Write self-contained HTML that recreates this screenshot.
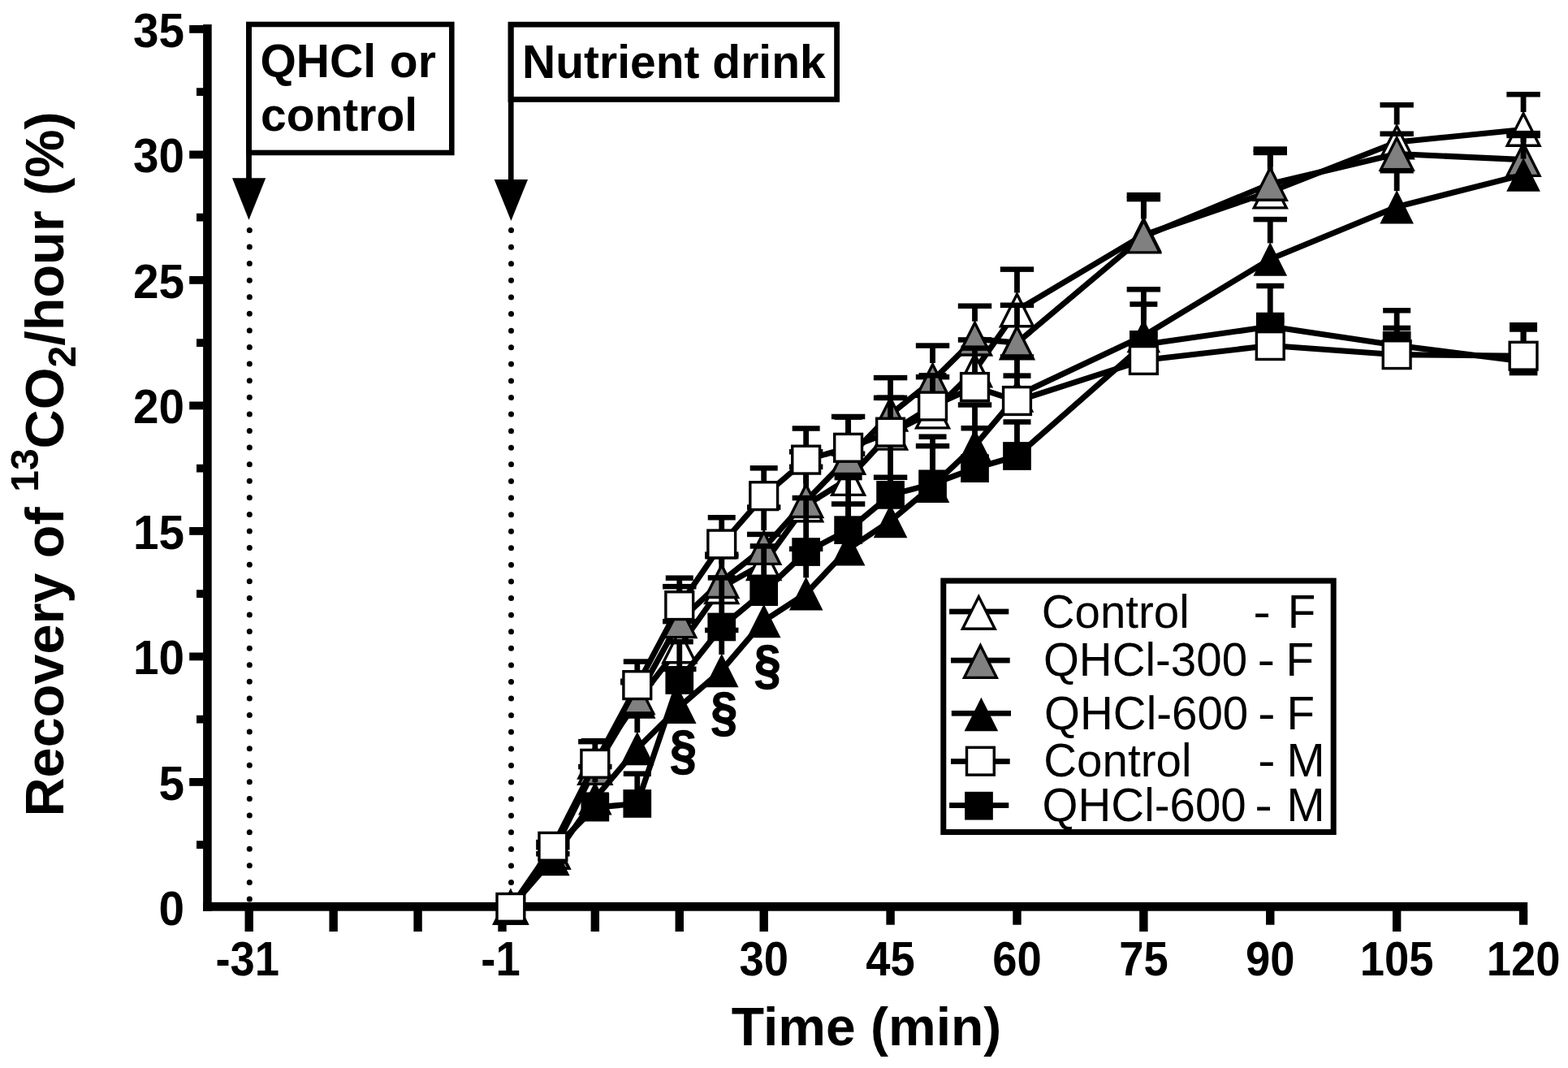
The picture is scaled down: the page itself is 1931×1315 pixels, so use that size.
<!DOCTYPE html>
<html><head><meta charset="utf-8"><title>Recovery of 13CO2/hour</title>
<style>
html,body{margin:0;padding:0;background:#fff;}
svg{display:block;}
text{font-family:"Liberation Sans",Arial,Helvetica,sans-serif;fill:#000;}
.b{font-weight:bold;}
.r{font-weight:normal;}
.tk{font-size:58.5px;}
.ax{font-size:66.6px;}
.bx{font-size:57px;}
.lg{font-size:56.5px;}
.ss{font-size:57.5px;}
</style></head><body>
<svg width="1931" height="1315" viewBox="0 0 1931 1315">
<rect width="1931" height="1315" fill="#fff"/>
<g fill="#000">
<rect x="250.1" y="30.1" width="10.6" height="1091.6"/>
<rect x="250.1" y="1110.9" width="1631.1" height="10.8"/>
<rect x="233.2" y="958" width="17.5" height="9.8"/>
<rect x="233.2" y="803.5" width="17.5" height="9.8"/>
<rect x="233.2" y="649" width="17.5" height="9.8"/>
<rect x="233.2" y="494.5" width="17.5" height="9.8"/>
<rect x="233.2" y="340" width="17.5" height="9.8"/>
<rect x="233.2" y="185.5" width="17.5" height="9.8"/>
<rect x="233.2" y="31" width="17.5" height="9.8"/>
<rect x="242" y="1035.25" width="8.6" height="9.8"/>
<rect x="242" y="880.75" width="8.6" height="9.8"/>
<rect x="242" y="726.25" width="8.6" height="9.8"/>
<rect x="242" y="571.75" width="8.6" height="9.8"/>
<rect x="242" y="417.25" width="8.6" height="9.8"/>
<rect x="242" y="262.75" width="8.6" height="9.8"/>
<rect x="242" y="108.25" width="8.6" height="9.8"/>
<rect x="301.52" y="1121" width="10.4" height="26"/>
<rect x="405.45" y="1121" width="10.4" height="26"/>
<rect x="509.38" y="1121" width="10.4" height="26"/>
<rect x="613.31" y="1121" width="10.4" height="26"/>
<rect x="727.63" y="1121" width="10.4" height="26"/>
<rect x="831.56" y="1121" width="10.4" height="26"/>
<rect x="935.49" y="1121" width="10.4" height="26"/>
<rect x="1403.17" y="1121" width="10.4" height="26"/>
<rect x="1714.96" y="1121" width="10.4" height="26"/>
<rect x="1091.38" y="1121" width="10.4" height="17.7"/>
<rect x="1247.28" y="1121" width="10.4" height="17.7"/>
<rect x="1559.07" y="1121" width="10.4" height="17.7"/>
<rect x="1870.86" y="1121" width="10.4" height="17.7"/>
<rect x="306.5" y="30" width="249.8" height="158" fill="none" stroke="#000" stroke-width="6.6"/>
<rect x="303.1" y="27" width="6.8" height="194"/>
<path d="M286 219.2L327.2 219.2L306.5 270.8Z"/>
<rect x="629" y="30.2" width="401.6" height="92.2" fill="none" stroke="#000" stroke-width="6.8"/>
<rect x="625.9" y="27" width="6.7" height="195"/>
<path d="M608.7 220.9L650 220.9L629.4 272Z"/>
<circle cx="307.3" cy="283.4" r="3.5"/>
<circle cx="629.5" cy="283.6" r="3.5"/>
<circle cx="307.3" cy="303.99" r="3.5"/>
<circle cx="629.5" cy="304.19" r="3.5"/>
<circle cx="307.3" cy="324.58" r="3.5"/>
<circle cx="629.5" cy="324.78" r="3.5"/>
<circle cx="307.3" cy="345.17" r="3.5"/>
<circle cx="629.5" cy="345.37" r="3.5"/>
<circle cx="307.3" cy="365.76" r="3.5"/>
<circle cx="629.5" cy="365.96" r="3.5"/>
<circle cx="307.3" cy="386.35" r="3.5"/>
<circle cx="629.5" cy="386.55" r="3.5"/>
<circle cx="307.3" cy="406.94" r="3.5"/>
<circle cx="629.5" cy="407.14" r="3.5"/>
<circle cx="307.3" cy="427.53" r="3.5"/>
<circle cx="629.5" cy="427.73" r="3.5"/>
<circle cx="307.3" cy="448.12" r="3.5"/>
<circle cx="629.5" cy="448.32" r="3.5"/>
<circle cx="307.3" cy="468.71" r="3.5"/>
<circle cx="629.5" cy="468.91" r="3.5"/>
<circle cx="307.3" cy="489.3" r="3.5"/>
<circle cx="629.5" cy="489.5" r="3.5"/>
<circle cx="307.3" cy="509.89" r="3.5"/>
<circle cx="629.5" cy="510.09" r="3.5"/>
<circle cx="307.3" cy="530.48" r="3.5"/>
<circle cx="629.5" cy="530.68" r="3.5"/>
<circle cx="307.3" cy="551.07" r="3.5"/>
<circle cx="629.5" cy="551.27" r="3.5"/>
<circle cx="307.3" cy="571.66" r="3.5"/>
<circle cx="629.5" cy="571.86" r="3.5"/>
<circle cx="307.3" cy="592.25" r="3.5"/>
<circle cx="629.5" cy="592.45" r="3.5"/>
<circle cx="307.3" cy="612.84" r="3.5"/>
<circle cx="629.5" cy="613.04" r="3.5"/>
<circle cx="307.3" cy="633.43" r="3.5"/>
<circle cx="629.5" cy="633.63" r="3.5"/>
<circle cx="307.3" cy="654.02" r="3.5"/>
<circle cx="629.5" cy="654.22" r="3.5"/>
<circle cx="307.3" cy="674.61" r="3.5"/>
<circle cx="629.5" cy="674.81" r="3.5"/>
<circle cx="307.3" cy="695.2" r="3.5"/>
<circle cx="629.5" cy="695.4" r="3.5"/>
<circle cx="307.3" cy="715.79" r="3.5"/>
<circle cx="629.5" cy="715.99" r="3.5"/>
<circle cx="307.3" cy="736.38" r="3.5"/>
<circle cx="629.5" cy="736.58" r="3.5"/>
<circle cx="307.3" cy="756.97" r="3.5"/>
<circle cx="629.5" cy="757.17" r="3.5"/>
<circle cx="307.3" cy="777.56" r="3.5"/>
<circle cx="629.5" cy="777.76" r="3.5"/>
<circle cx="307.3" cy="798.15" r="3.5"/>
<circle cx="629.5" cy="798.35" r="3.5"/>
<circle cx="307.3" cy="818.74" r="3.5"/>
<circle cx="629.5" cy="818.94" r="3.5"/>
<circle cx="307.3" cy="839.33" r="3.5"/>
<circle cx="629.5" cy="839.53" r="3.5"/>
<circle cx="307.3" cy="859.92" r="3.5"/>
<circle cx="629.5" cy="860.12" r="3.5"/>
<circle cx="307.3" cy="880.51" r="3.5"/>
<circle cx="629.5" cy="880.71" r="3.5"/>
<circle cx="307.3" cy="901.1" r="3.5"/>
<circle cx="629.5" cy="901.3" r="3.5"/>
<circle cx="307.3" cy="921.69" r="3.5"/>
<circle cx="629.5" cy="921.89" r="3.5"/>
<circle cx="307.3" cy="942.28" r="3.5"/>
<circle cx="629.5" cy="942.48" r="3.5"/>
<circle cx="307.3" cy="962.87" r="3.5"/>
<circle cx="629.5" cy="963.07" r="3.5"/>
<circle cx="307.3" cy="983.46" r="3.5"/>
<circle cx="629.5" cy="983.66" r="3.5"/>
<circle cx="307.3" cy="1004.05" r="3.5"/>
<circle cx="629.5" cy="1004.25" r="3.5"/>
<circle cx="307.3" cy="1024.64" r="3.5"/>
<circle cx="629.5" cy="1024.84" r="3.5"/>
<circle cx="307.3" cy="1045.23" r="3.5"/>
<circle cx="629.5" cy="1045.43" r="3.5"/>
<circle cx="307.3" cy="1065.82" r="3.5"/>
<circle cx="629.5" cy="1066.02" r="3.5"/>
<circle cx="307.3" cy="1086.41" r="3.5"/>
<circle cx="629.5" cy="1086.61" r="3.5"/>
<circle cx="307.3" cy="1107" r="3.5"/>
<circle cx="629.5" cy="1107.2" r="3.5"/>
</g>
<g fill="#000">
<rect x="660.16" y="1033.81" width="41.4" height="6.5"/>
<rect x="729.43" y="913.15" width="6.8" height="3.53"/>
<rect x="712.13" y="909.9" width="41.4" height="6.5"/>
<rect x="781.39" y="838.68" width="6.8" height="3.22"/>
<rect x="764.09" y="835.43" width="41.4" height="6.5"/>
<rect x="833.36" y="765.14" width="6.8" height="9.4"/>
<rect x="816.06" y="761.89" width="41.4" height="6.5"/>
<rect x="885.33" y="685.11" width="6.8" height="16.2"/>
<rect x="868.02" y="681.86" width="41.4" height="6.5"/>
<rect x="937.29" y="657.92" width="6.8" height="14.34"/>
<rect x="919.99" y="654.67" width="41.4" height="6.5"/>
<rect x="989.25" y="556.26" width="6.8" height="44.32"/>
<rect x="971.95" y="553.01" width="41.4" height="6.5"/>
<rect x="1041.22" y="558.73" width="6.8" height="9.4"/>
<rect x="1023.92" y="555.48" width="41.4" height="6.5"/>
<rect x="1093.18" y="489.82" width="6.8" height="22.07"/>
<rect x="1075.88" y="486.57" width="41.4" height="6.5"/>
<rect x="1145.15" y="464.17" width="6.8" height="21.45"/>
<rect x="1127.85" y="460.92" width="41.4" height="6.5"/>
<rect x="1197.11" y="418.44" width="6.8" height="16.2"/>
<rect x="1179.81" y="415.19" width="41.4" height="6.5"/>
<rect x="1249.08" y="331.61" width="6.8" height="28.87"/>
<rect x="1231.78" y="328.36" width="41.4" height="6.5"/>
<rect x="1404.97" y="240.15" width="6.8" height="27.63"/>
<rect x="1387.67" y="236.9" width="41.4" height="6.5"/>
<rect x="1560.87" y="183.6" width="6.8" height="31.03"/>
<rect x="1543.57" y="180.35" width="41.4" height="6.5"/>
<rect x="1716.76" y="129.22" width="6.8" height="24.23"/>
<rect x="1699.46" y="125.97" width="41.4" height="6.5"/>
<rect x="1872.66" y="116.24" width="6.8" height="21.76"/>
<rect x="1855.36" y="112.99" width="41.4" height="6.5"/>
<polyline points="628.9,1117.4 680.87,1049.42 732.83,938.18 784.79,863.4 836.76,796.04 888.73,722.81 940.69,693.76 992.65,622.07 1044.62,589.63 1096.59,533.39 1148.55,507.13 1200.51,456.14 1252.48,381.98 1408.38,289.28 1564.27,236.13 1720.16,174.95 1876.06,159.5" fill="none" stroke="#000" stroke-width="7.1" stroke-linejoin="round"/>
<path d="M628.9 1097.65L648.8 1137.15L609 1137.15Z" fill="#fff" stroke="#000" stroke-width="3.4" stroke-linejoin="miter"/>
<path d="M680.87 1029.67L700.76 1069.17L660.97 1069.17Z" fill="#fff" stroke="#000" stroke-width="3.4" stroke-linejoin="miter"/>
<path d="M732.83 918.43L752.73 957.93L712.93 957.93Z" fill="#fff" stroke="#000" stroke-width="3.4" stroke-linejoin="miter"/>
<path d="M784.79 843.65L804.69 883.15L764.89 883.15Z" fill="#fff" stroke="#000" stroke-width="3.4" stroke-linejoin="miter"/>
<path d="M836.76 776.29L856.66 815.79L816.86 815.79Z" fill="#fff" stroke="#000" stroke-width="3.4" stroke-linejoin="miter"/>
<path d="M888.73 703.06L908.62 742.56L868.83 742.56Z" fill="#fff" stroke="#000" stroke-width="3.4" stroke-linejoin="miter"/>
<path d="M940.69 674.01L960.59 713.51L920.79 713.51Z" fill="#fff" stroke="#000" stroke-width="3.4" stroke-linejoin="miter"/>
<path d="M992.65 602.32L1012.55 641.82L972.75 641.82Z" fill="#fff" stroke="#000" stroke-width="3.4" stroke-linejoin="miter"/>
<path d="M1044.62 569.88L1064.52 609.38L1024.72 609.38Z" fill="#fff" stroke="#000" stroke-width="3.4" stroke-linejoin="miter"/>
<path d="M1096.59 513.64L1116.49 553.14L1076.68 553.14Z" fill="#fff" stroke="#000" stroke-width="3.4" stroke-linejoin="miter"/>
<path d="M1148.55 487.38L1168.45 526.88L1128.65 526.88Z" fill="#fff" stroke="#000" stroke-width="3.4" stroke-linejoin="miter"/>
<path d="M1200.51 436.39L1220.41 475.89L1180.61 475.89Z" fill="#fff" stroke="#000" stroke-width="3.4" stroke-linejoin="miter"/>
<path d="M1252.48 362.23L1272.38 401.73L1232.58 401.73Z" fill="#fff" stroke="#000" stroke-width="3.4" stroke-linejoin="miter"/>
<path d="M1408.38 269.53L1428.28 309.03L1388.47 309.03Z" fill="#fff" stroke="#000" stroke-width="3.4" stroke-linejoin="miter"/>
<path d="M1564.27 216.38L1584.17 255.88L1544.37 255.88Z" fill="#fff" stroke="#000" stroke-width="3.4" stroke-linejoin="miter"/>
<path d="M1720.16 155.2L1740.07 194.7L1700.26 194.7Z" fill="#fff" stroke="#000" stroke-width="3.4" stroke-linejoin="miter"/>
<path d="M1876.06 139.75L1895.96 179.25L1856.16 179.25Z" fill="#fff" stroke="#000" stroke-width="3.4" stroke-linejoin="miter"/>
<rect x="660.16" y="1039.99" width="41.4" height="6.5"/>
<rect x="764.09" y="836.98" width="41.4" height="6.5"/>
<rect x="833.36" y="722.19" width="6.8" height="21.14"/>
<rect x="816.06" y="718.94" width="41.4" height="6.5"/>
<rect x="885.33" y="682.64" width="6.8" height="11.56"/>
<rect x="868.02" y="679.39" width="41.4" height="6.5"/>
<rect x="937.29" y="624.55" width="6.8" height="28.56"/>
<rect x="919.99" y="621.3" width="41.4" height="6.5"/>
<rect x="989.25" y="574.8" width="6.8" height="20.52"/>
<rect x="971.95" y="571.55" width="41.4" height="6.5"/>
<rect x="1041.22" y="513" width="6.8" height="29.18"/>
<rect x="1023.92" y="509.75" width="41.4" height="6.5"/>
<rect x="1093.18" y="465.1" width="6.8" height="23.61"/>
<rect x="1075.88" y="461.85" width="41.4" height="6.5"/>
<rect x="1145.15" y="425.55" width="6.8" height="21.45"/>
<rect x="1127.85" y="422.3" width="41.4" height="6.5"/>
<rect x="1197.11" y="376.73" width="6.8" height="18.98"/>
<rect x="1179.81" y="373.48" width="41.4" height="6.5"/>
<rect x="1249.08" y="375.8" width="6.8" height="24.85"/>
<rect x="1231.78" y="372.55" width="41.4" height="6.5"/>
<rect x="1404.97" y="245.09" width="6.8" height="24.54"/>
<rect x="1387.67" y="241.84" width="41.4" height="6.5"/>
<rect x="1560.87" y="187.93" width="6.8" height="17.12"/>
<rect x="1543.57" y="184.68" width="41.4" height="6.5"/>
<rect x="1716.76" y="164.75" width="6.8" height="3.22"/>
<rect x="1699.46" y="161.5" width="41.4" height="6.5"/>
<rect x="1872.66" y="164.14" width="6.8" height="10.95"/>
<rect x="1855.36" y="160.89" width="41.4" height="6.5"/>
<polyline points="628.9,1117.4 680.87,1049.42 732.83,945.6 784.79,858.77 836.76,764.83 888.73,715.7 940.69,674.6 992.65,616.82 1044.62,563.67 1096.59,510.22 1148.55,468.5 1200.51,417.21 1252.48,422.15 1408.38,291.13 1564.27,226.55 1720.16,189.47 1876.06,196.58" fill="none" stroke="#000" stroke-width="7.1" stroke-linejoin="round"/>
<path d="M628.9 1097.65L648.8 1137.15L609 1137.15Z" fill="#808080" stroke="#000" stroke-width="3.4" stroke-linejoin="miter"/>
<path d="M680.87 1029.67L700.76 1069.17L660.97 1069.17Z" fill="#808080" stroke="#000" stroke-width="3.4" stroke-linejoin="miter"/>
<path d="M732.83 925.85L752.73 965.35L712.93 965.35Z" fill="#808080" stroke="#000" stroke-width="3.4" stroke-linejoin="miter"/>
<path d="M784.79 839.02L804.69 878.52L764.89 878.52Z" fill="#808080" stroke="#000" stroke-width="3.4" stroke-linejoin="miter"/>
<path d="M836.76 745.08L856.66 784.58L816.86 784.58Z" fill="#808080" stroke="#000" stroke-width="3.4" stroke-linejoin="miter"/>
<path d="M888.73 695.95L908.62 735.45L868.83 735.45Z" fill="#808080" stroke="#000" stroke-width="3.4" stroke-linejoin="miter"/>
<path d="M940.69 654.85L960.59 694.35L920.79 694.35Z" fill="#808080" stroke="#000" stroke-width="3.4" stroke-linejoin="miter"/>
<path d="M992.65 597.07L1012.55 636.57L972.75 636.57Z" fill="#808080" stroke="#000" stroke-width="3.4" stroke-linejoin="miter"/>
<path d="M1044.62 543.92L1064.52 583.42L1024.72 583.42Z" fill="#808080" stroke="#000" stroke-width="3.4" stroke-linejoin="miter"/>
<path d="M1096.59 490.47L1116.49 529.97L1076.68 529.97Z" fill="#808080" stroke="#000" stroke-width="3.4" stroke-linejoin="miter"/>
<path d="M1148.55 448.75L1168.45 488.25L1128.65 488.25Z" fill="#808080" stroke="#000" stroke-width="3.4" stroke-linejoin="miter"/>
<path d="M1200.51 397.46L1220.41 436.96L1180.61 436.96Z" fill="#808080" stroke="#000" stroke-width="3.4" stroke-linejoin="miter"/>
<path d="M1252.48 402.4L1272.38 441.9L1232.58 441.9Z" fill="#808080" stroke="#000" stroke-width="3.4" stroke-linejoin="miter"/>
<path d="M1408.38 271.38L1428.28 310.88L1388.47 310.88Z" fill="#808080" stroke="#000" stroke-width="3.4" stroke-linejoin="miter"/>
<path d="M1564.27 206.8L1584.17 246.3L1544.37 246.3Z" fill="#808080" stroke="#000" stroke-width="3.4" stroke-linejoin="miter"/>
<path d="M1720.16 169.72L1740.07 209.22L1700.26 209.22Z" fill="#808080" stroke="#000" stroke-width="3.4" stroke-linejoin="miter"/>
<path d="M1876.06 176.83L1895.96 216.33L1856.16 216.33Z" fill="#808080" stroke="#000" stroke-width="3.4" stroke-linejoin="miter"/>
<rect x="660.16" y="1048.02" width="41.4" height="6.5"/>
<rect x="729.43" y="944.05" width="6.8" height="19.12"/>
<rect x="712.13" y="940.8" width="41.4" height="6.5"/>
<rect x="781.39" y="879.47" width="6.8" height="22.52"/>
<rect x="764.09" y="876.22" width="41.4" height="6.5"/>
<rect x="833.36" y="823.85" width="6.8" height="26.85"/>
<rect x="816.06" y="820.6" width="41.4" height="6.5"/>
<rect x="885.33" y="775.96" width="6.8" height="29.94"/>
<rect x="868.02" y="772.71" width="41.4" height="6.5"/>
<rect x="937.29" y="710.76" width="6.8" height="34.27"/>
<rect x="919.99" y="707.51" width="41.4" height="6.5"/>
<rect x="989.25" y="675.84" width="6.8" height="35.5"/>
<rect x="971.95" y="672.59" width="41.4" height="6.5"/>
<rect x="1041.22" y="620.53" width="6.8" height="35.81"/>
<rect x="1023.92" y="617.28" width="41.4" height="6.5"/>
<rect x="1093.18" y="587.77" width="6.8" height="34.27"/>
<rect x="1075.88" y="584.52" width="41.4" height="6.5"/>
<rect x="1145.15" y="549.15" width="6.8" height="29.63"/>
<rect x="1127.85" y="545.9" width="41.4" height="6.5"/>
<rect x="1197.11" y="498.47" width="6.8" height="30.87"/>
<rect x="1179.81" y="495.22" width="41.4" height="6.5"/>
<rect x="1249.08" y="439.45" width="6.8" height="28.09"/>
<rect x="1231.78" y="436.2" width="41.4" height="6.5"/>
<rect x="1404.97" y="356.33" width="6.8" height="37.66"/>
<rect x="1387.67" y="353.08" width="41.4" height="6.5"/>
<rect x="1560.87" y="270.12" width="6.8" height="29.32"/>
<rect x="1543.57" y="266.87" width="41.4" height="6.5"/>
<rect x="1716.76" y="210.18" width="6.8" height="25"/>
<rect x="1699.46" y="206.93" width="41.4" height="6.5"/>
<rect x="1872.66" y="166.92" width="6.8" height="28.7"/>
<rect x="1855.36" y="163.67" width="41.4" height="6.5"/>
<polyline points="628.9,1117.4 680.87,1057.45 732.83,982.68 784.79,921.49 836.76,870.2 888.73,825.4 940.69,764.52 992.65,730.84 1044.62,675.84 1096.59,641.54 1148.55,598.28 1200.51,548.84 1252.48,487.04 1408.38,413.5 1564.27,318.94 1720.16,254.67 1876.06,215.12" fill="none" stroke="#000" stroke-width="7.1" stroke-linejoin="round"/>
<path d="M628.9 1096.65L649.7 1138.15L608.1 1138.15Z" fill="#000"/>
<path d="M680.87 1036.7L701.66 1078.2L660.07 1078.2Z" fill="#000"/>
<path d="M732.83 961.93L753.63 1003.43L712.03 1003.43Z" fill="#000"/>
<path d="M784.79 900.74L805.59 942.24L764 942.24Z" fill="#000"/>
<path d="M836.76 849.45L857.56 890.95L815.96 890.95Z" fill="#000"/>
<path d="M888.73 804.65L909.52 846.15L867.93 846.15Z" fill="#000"/>
<path d="M940.69 743.77L961.49 785.27L919.89 785.27Z" fill="#000"/>
<path d="M992.65 710.09L1013.45 751.59L971.86 751.59Z" fill="#000"/>
<path d="M1044.62 655.09L1065.42 696.59L1023.82 696.59Z" fill="#000"/>
<path d="M1096.59 620.79L1117.38 662.29L1075.79 662.29Z" fill="#000"/>
<path d="M1148.55 577.53L1169.35 619.03L1127.75 619.03Z" fill="#000"/>
<path d="M1200.51 528.09L1221.31 569.59L1179.71 569.59Z" fill="#000"/>
<path d="M1252.48 466.29L1273.28 507.79L1231.68 507.79Z" fill="#000"/>
<path d="M1408.38 392.75L1429.17 434.25L1387.58 434.25Z" fill="#000"/>
<path d="M1564.27 298.19L1585.07 339.69L1543.47 339.69Z" fill="#000"/>
<path d="M1720.16 233.92L1740.96 275.42L1699.37 275.42Z" fill="#000"/>
<path d="M1876.06 194.37L1896.86 235.87L1855.26 235.87Z" fill="#000"/>
<rect x="663.87" y="1036.9" width="34" height="6.5"/>
<rect x="715.83" y="975.41" width="34" height="6.5"/>
<rect x="781.39" y="952.7" width="6.8" height="20.27"/>
<rect x="767.79" y="949.45" width="34" height="6.5"/>
<rect x="833.36" y="790.17" width="6.8" height="30.78"/>
<rect x="819.76" y="786.92" width="34" height="6.5"/>
<rect x="885.33" y="711.37" width="6.8" height="44.06"/>
<rect x="871.73" y="708.12" width="34" height="6.5"/>
<rect x="937.29" y="672.44" width="6.8" height="39.74"/>
<rect x="923.69" y="669.19" width="34" height="6.5"/>
<rect x="989.25" y="613.11" width="6.8" height="49.94"/>
<rect x="975.65" y="609.86" width="34" height="6.5"/>
<rect x="1041.22" y="588.08" width="6.8" height="48.08"/>
<rect x="1027.62" y="584.83" width="34" height="6.5"/>
<rect x="1093.18" y="535.24" width="6.8" height="57.66"/>
<rect x="1079.59" y="531.99" width="34" height="6.5"/>
<rect x="1145.15" y="537.72" width="6.8" height="41.59"/>
<rect x="1131.55" y="534.47" width="34" height="6.5"/>
<rect x="1197.11" y="527.21" width="6.8" height="32.94"/>
<rect x="1183.51" y="523.96" width="34" height="6.5"/>
<rect x="1249.08" y="519.49" width="6.8" height="25.52"/>
<rect x="1235.48" y="516.24" width="34" height="6.5"/>
<rect x="1404.97" y="374.56" width="6.8" height="33.25"/>
<rect x="1391.38" y="371.31" width="34" height="6.5"/>
<rect x="1560.87" y="352.01" width="6.8" height="33.56"/>
<rect x="1547.27" y="348.76" width="34" height="6.5"/>
<rect x="1716.76" y="382.29" width="6.8" height="26.45"/>
<rect x="1703.16" y="379.04" width="34" height="6.5"/>
<rect x="1872.66" y="400.21" width="6.8" height="28.3"/>
<rect x="1859.06" y="396.96" width="34" height="6.5"/>
<polyline points="628.9,1117.4 680.87,1046.33 732.83,994.11 784.79,989.47 836.76,837.45 888.73,771.94 940.69,728.68 992.65,679.55 1044.62,652.66 1096.59,609.4 1148.55,595.81 1200.51,576.65 1252.48,561.51 1408.38,424.31 1564.27,402.07 1720.16,425.24 1876.06,445.02" fill="none" stroke="#000" stroke-width="7.1" stroke-linejoin="round"/>
<rect x="611.55" y="1100.05" width="34.7" height="34.7" fill="#000"/>
<rect x="663.51" y="1028.98" width="34.7" height="34.7" fill="#000"/>
<rect x="715.48" y="976.76" width="34.7" height="34.7" fill="#000"/>
<rect x="767.44" y="972.12" width="34.7" height="34.7" fill="#000"/>
<rect x="819.41" y="820.1" width="34.7" height="34.7" fill="#000"/>
<rect x="871.38" y="754.59" width="34.7" height="34.7" fill="#000"/>
<rect x="923.34" y="711.33" width="34.7" height="34.7" fill="#000"/>
<rect x="975.3" y="662.2" width="34.7" height="34.7" fill="#000"/>
<rect x="1027.27" y="635.31" width="34.7" height="34.7" fill="#000"/>
<rect x="1079.24" y="592.05" width="34.7" height="34.7" fill="#000"/>
<rect x="1131.2" y="578.46" width="34.7" height="34.7" fill="#000"/>
<rect x="1183.16" y="559.3" width="34.7" height="34.7" fill="#000"/>
<rect x="1235.13" y="544.16" width="34.7" height="34.7" fill="#000"/>
<rect x="1391.03" y="406.96" width="34.7" height="34.7" fill="#000"/>
<rect x="1546.92" y="384.72" width="34.7" height="34.7" fill="#000"/>
<rect x="1702.82" y="407.89" width="34.7" height="34.7" fill="#000"/>
<rect x="1858.71" y="427.67" width="34.7" height="34.7" fill="#000"/>
<rect x="663.87" y="1029.79" width="34" height="6.5"/>
<rect x="729.43" y="912.22" width="6.8" height="10.62"/>
<rect x="715.83" y="908.97" width="34" height="6.5"/>
<rect x="781.39" y="814.58" width="6.8" height="11.55"/>
<rect x="767.79" y="811.33" width="34" height="6.5"/>
<rect x="833.36" y="711.68" width="6.8" height="16.49"/>
<rect x="819.76" y="708.43" width="34" height="6.5"/>
<rect x="885.33" y="637.21" width="6.8" height="15.25"/>
<rect x="871.73" y="633.96" width="34" height="6.5"/>
<rect x="937.29" y="576.34" width="6.8" height="16.8"/>
<rect x="923.69" y="573.09" width="34" height="6.5"/>
<rect x="989.25" y="527.52" width="6.8" height="21.12"/>
<rect x="975.65" y="524.27" width="34" height="6.5"/>
<rect x="1041.22" y="513.61" width="6.8" height="20.2"/>
<rect x="1027.62" y="510.36" width="34" height="6.5"/>
<rect x="1093.18" y="489.82" width="6.8" height="24.83"/>
<rect x="1079.59" y="486.57" width="34" height="6.5"/>
<rect x="1145.15" y="462.32" width="6.8" height="20.2"/>
<rect x="1131.55" y="459.07" width="34" height="6.5"/>
<rect x="1197.11" y="428.64" width="6.8" height="30.4"/>
<rect x="1183.51" y="425.39" width="34" height="6.5"/>
<rect x="1249.08" y="462.63" width="6.8" height="13.4"/>
<rect x="1235.48" y="459.38" width="34" height="6.5"/>
<rect x="1404.97" y="412.57" width="6.8" height="13.4"/>
<rect x="1391.38" y="409.32" width="34" height="6.5"/>
<rect x="1560.87" y="394.65" width="6.8" height="13.4"/>
<rect x="1547.27" y="391.4" width="34" height="6.5"/>
<rect x="1716.76" y="403.92" width="6.8" height="15.25"/>
<rect x="1703.16" y="400.67" width="34" height="6.5"/>
<rect x="1872.66" y="405.46" width="6.8" height="15.25"/>
<rect x="1859.06" y="402.21" width="34" height="6.5"/>
<polyline points="628.9,1117.4 680.87,1042.31 732.83,940.34 784.79,843.63 836.76,745.67 888.73,669.97 940.69,610.64 992.65,566.14 1044.62,551.31 1096.59,532.15 1148.55,500.02 1200.51,476.53 1252.48,493.53 1408.38,443.47 1564.27,425.55 1720.16,436.67 1876.06,438.22" fill="none" stroke="#000" stroke-width="7.1" stroke-linejoin="round"/>
<rect x="612" y="1100.5" width="33.8" height="33.8" fill="#fff" stroke="#000" stroke-width="3.4"/>
<rect x="663.97" y="1025.41" width="33.8" height="33.8" fill="#fff" stroke="#000" stroke-width="3.4"/>
<rect x="715.93" y="923.44" width="33.8" height="33.8" fill="#fff" stroke="#000" stroke-width="3.4"/>
<rect x="767.89" y="826.73" width="33.8" height="33.8" fill="#fff" stroke="#000" stroke-width="3.4"/>
<rect x="819.86" y="728.77" width="33.8" height="33.8" fill="#fff" stroke="#000" stroke-width="3.4"/>
<rect x="871.83" y="653.07" width="33.8" height="33.8" fill="#fff" stroke="#000" stroke-width="3.4"/>
<rect x="923.79" y="593.74" width="33.8" height="33.8" fill="#fff" stroke="#000" stroke-width="3.4"/>
<rect x="975.75" y="549.24" width="33.8" height="33.8" fill="#fff" stroke="#000" stroke-width="3.4"/>
<rect x="1027.72" y="534.41" width="33.8" height="33.8" fill="#fff" stroke="#000" stroke-width="3.4"/>
<rect x="1079.68" y="515.25" width="33.8" height="33.8" fill="#fff" stroke="#000" stroke-width="3.4"/>
<rect x="1131.65" y="483.12" width="33.8" height="33.8" fill="#fff" stroke="#000" stroke-width="3.4"/>
<rect x="1183.61" y="459.63" width="33.8" height="33.8" fill="#fff" stroke="#000" stroke-width="3.4"/>
<rect x="1235.58" y="476.63" width="33.8" height="33.8" fill="#fff" stroke="#000" stroke-width="3.4"/>
<rect x="1391.47" y="426.57" width="33.8" height="33.8" fill="#fff" stroke="#000" stroke-width="3.4"/>
<rect x="1547.37" y="408.65" width="33.8" height="33.8" fill="#fff" stroke="#000" stroke-width="3.4"/>
<rect x="1703.26" y="419.77" width="33.8" height="33.8" fill="#fff" stroke="#000" stroke-width="3.4"/>
<rect x="1859.16" y="421.32" width="33.8" height="33.8" fill="#fff" stroke="#000" stroke-width="3.4"/>
</g>
<g fill="#000">
<rect x="1161.8" y="715.1" width="480.4" height="309.4" fill="#fff" stroke="#000" stroke-width="7"/>
<rect x="1169.1" y="749.65" width="73.2" height="6.7"/>
<path d="M1205.3 734.75L1225.2 774.25L1185.4 774.25Z" fill="#fff" stroke="#000" stroke-width="3.4" stroke-linejoin="miter"/>
<rect x="1171" y="809.75" width="72.7" height="6.7"/>
<path d="M1207.4 794.85L1227.3 834.35L1187.5 834.35Z" fill="#808080" stroke="#000" stroke-width="3.4" stroke-linejoin="miter"/>
<rect x="1171.8" y="874.95" width="73.2" height="6.7"/>
<path d="M1208.4 858.75L1229.2 900.25L1187.6 900.25Z" fill="#000"/>
<rect x="1171" y="934.15" width="72.7" height="6.7"/>
<rect x="1190.5" y="920.3" width="33.8" height="33.8" fill="#fff" stroke="#000" stroke-width="3.4"/>
<rect x="1169.1" y="988.25" width="73.2" height="6.7"/>
<rect x="1188.15" y="974.85" width="34.7" height="34.7" fill="#000"/>
</g>
<text transform="translate(227,1139.4) scale(0.97,1)" text-anchor="end" class="b tk">0</text>
<text transform="translate(227,984.9) scale(0.97,1)" text-anchor="end" class="b tk">5</text>
<text transform="translate(227,830.4) scale(0.97,1)" text-anchor="end" class="b tk">10</text>
<text transform="translate(227,675.9) scale(0.97,1)" text-anchor="end" class="b tk">15</text>
<text transform="translate(227,521.4) scale(0.97,1)" text-anchor="end" class="b tk">20</text>
<text transform="translate(227,366.9) scale(0.97,1)" text-anchor="end" class="b tk">25</text>
<text transform="translate(227,212.4) scale(0.97,1)" text-anchor="end" class="b tk">30</text>
<text transform="translate(227,57.9) scale(0.97,1)" text-anchor="end" class="b tk">35</text>
<text transform="translate(304.72,1200.8) scale(0.93,1)" text-anchor="middle" class="b tk">-31</text>
<text transform="translate(616.51,1200.8) scale(0.93,1)" text-anchor="middle" class="b tk">-1</text>
<text transform="translate(940.69,1200.8) scale(0.93,1)" text-anchor="middle" class="b tk">30</text>
<text transform="translate(1096.59,1200.8) scale(0.93,1)" text-anchor="middle" class="b tk">45</text>
<text transform="translate(1252.48,1200.8) scale(0.93,1)" text-anchor="middle" class="b tk">60</text>
<text transform="translate(1408.38,1200.8) scale(0.93,1)" text-anchor="middle" class="b tk">75</text>
<text transform="translate(1564.27,1200.8) scale(0.93,1)" text-anchor="middle" class="b tk">90</text>
<text transform="translate(1720.16,1200.8) scale(0.93,1)" text-anchor="middle" class="b tk">105</text>
<text transform="translate(1876.06,1200.8) scale(0.93,1)" text-anchor="middle" class="b tk">120</text>
<text x="900.8" y="1287.1" class="b ax" style="font-size:66px">Time (min)</text>
<text transform="translate(77.5,1005.5) rotate(-90)" class="b ax">Recovery of <tspan font-size="48" dy="-31">13</tspan><tspan dy="31">CO</tspan><tspan font-size="48" dy="15">2</tspan><tspan dy="-15">/hour (%)</tspan></text>
<text x="320.5" y="95.2" class="b bx" style="word-spacing:1px">QHCl or</text>
<text x="321" y="161" class="b bx">control</text>
<text x="643" y="95.8" class="b bx">Nutrient drink</text>
<text transform="translate(841.5,945.75) scale(1.03,1.17)" text-anchor="middle" class="b ss" stroke="#000" stroke-width="1.1">&#167;</text>
<text transform="translate(891.8,899.45) scale(1.03,1.17)" text-anchor="middle" class="b ss" stroke="#000" stroke-width="1.1">&#167;</text>
<text transform="translate(945.2,840.65) scale(1.03,1.17)" text-anchor="middle" class="b ss" stroke="#000" stroke-width="1.1">&#167;</text>
<text x="1282.7" y="772.7" class="r lg">Control</text>
<text transform="translate(1543.3,772.7) scale(1.15,1)" class="r lg">-</text>
<text x="1585.8" y="772.7" class="r lg">F</text>
<text x="1284.9" y="832.2" class="r lg">QHCl-300</text>
<text transform="translate(1548.4,832.2) scale(1.15,1)" class="r lg">-</text>
<text x="1583.5" y="832.2" class="r lg">F</text>
<text x="1286.1" y="897.9" class="r lg">QHCl-600</text>
<text transform="translate(1549.1,897.9) scale(1.15,1)" class="r lg">-</text>
<text x="1584.4" y="897.9" class="r lg">F</text>
<text x="1285.3" y="956.2" class="r lg">Control</text>
<text transform="translate(1549.1,956.2) scale(1.15,1)" class="r lg">-</text>
<text x="1584.4" y="956.2" class="r lg">M</text>
<text x="1283.6" y="1010.8" class="r lg">QHCl-600</text>
<text transform="translate(1545.3,1010.8) scale(1.15,1)" class="r lg">-</text>
<text x="1584.4" y="1010.8" class="r lg">M</text>
</svg>
</body></html>
